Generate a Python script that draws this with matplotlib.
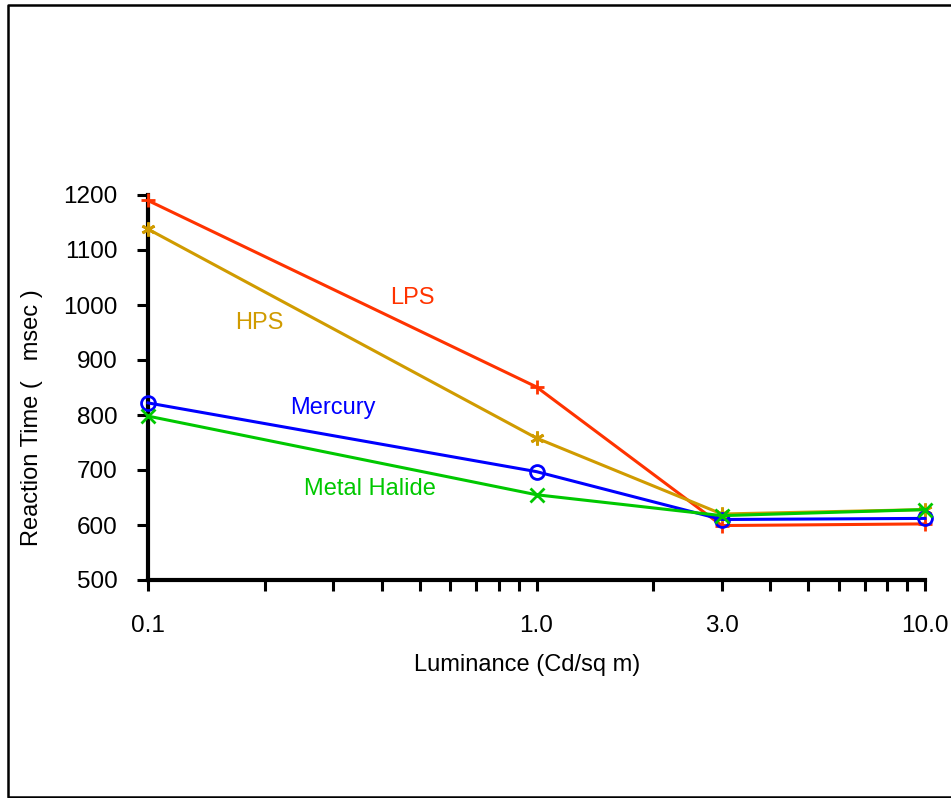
import matplotlib
matplotlib.use("Agg")
import matplotlib.pyplot as plt
from matplotlib.lines import Line2D
from matplotlib.ticker import FixedLocator, NullFormatter

plt.rcParams['font.family'] = ['Liberation Sans', 'DejaVu Sans']

luminance = [0.1, 1.0, 3.0, 10.0]
lps = [1190, 851, 599, 602]
hps = [1138, 758, 620, 628]
mercury = [822, 697, 610, 612]
metal_halide = [798, 655, 617, 628]

series = [
    ("LPS", lps, "#ff3300", "+", 0.479, 1013),
    ("HPS", hps, "#d09b00", (6, 2, 0), 0.193, 967),
    ("Mercury", mercury, "#0000ff", "o", 0.300, 813),
    ("Metal Halide", metal_halide, "#00c800", "x", 0.373, 665),
]

xticks = [0.1, 1.0, 3.0, 10.0]
xticklabels = ["0.1", "1.0", "3.0", "10.0"]
xminor = [0.2, 0.3, 0.4, 0.5, 0.6, 0.7, 0.8, 0.9, 2, 4, 5, 6, 7, 8, 9]
yticks = [500, 600, 700, 800, 900, 1000, 1100, 1200]

W, H = 951, 798
fig = plt.figure(figsize=(W / 100, H / 100), dpi=100)
ax = fig.add_axes([148 / W, 1 - 580 / H, (925 - 148) / W, (580 - 195) / H])

for name, vals, color, marker, tx, ty in series:
    ax.plot(luminance, vals, color=color, lw=2.2, marker=marker, ms=10,
            mew=2.0, mfc='none' if marker == 'o' else color, clip_on=False, zorder=3)
    ax.text(tx, ty, name, color=color, fontsize=17, ha='center', va='center')

ax.set_xscale('log')
ax.set_xlim(0.1, 10)
ax.set_ylim(500, 1200)
ax.xaxis.set_major_locator(FixedLocator(xticks))
ax.set_xticklabels(xticklabels)
ax.xaxis.set_minor_locator(FixedLocator(xminor))
ax.xaxis.set_minor_formatter(NullFormatter())
ax.set_yticks(yticks)
ax.set_yticklabels([str(v) for v in yticks])

for s in ['top', 'right']:
    ax.spines[s].set_visible(False)
for s in ['left', 'bottom']:
    ax.spines[s].set_linewidth(3)

ax.tick_params(axis='x', which='both', direction='out', length=8, width=2.2,
               labelsize=17.5, pad=17)
ax.tick_params(axis='y', which='major', direction='out', length=8, width=2.2,
               labelsize=17.5, pad=14)

fig.text(32 / W, 1 - 418 / H, "Reaction Time (   msec )", rotation=90,
         fontsize=17, ha='center', va='center')
fig.text(527 / W, 1 - 665 / H, "Luminance (Cd/sq m)", fontsize=17,
         ha='center', va='center')

# figure border (left, top, bottom)
bx0, by_top, by_bot = 8 / W, 1 - 4.5 / H, 1 - 796.5 / H
fig.add_artist(Line2D([1.0, bx0, bx0, 1.0], [by_top, by_top, by_bot, by_bot],
                      transform=fig.transFigure, color='black', lw=1.8))

fig.savefig("out.png", dpi=100)
